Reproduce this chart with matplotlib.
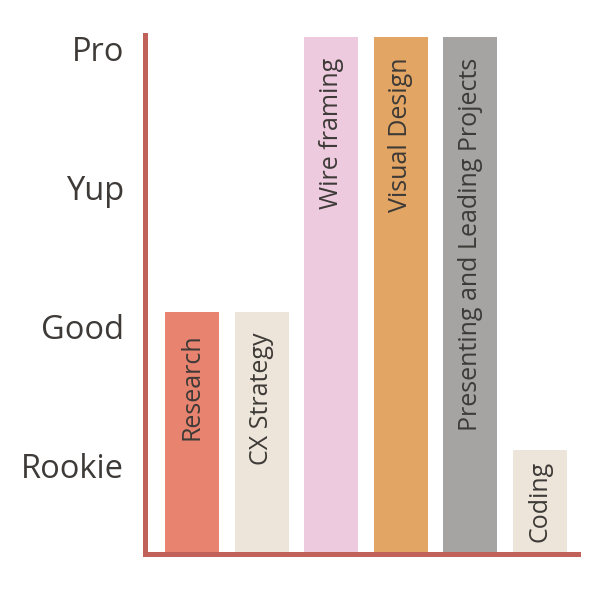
import matplotlib
matplotlib.use("Agg")
import matplotlib.pyplot as plt

# --- Data ---
skills = ["Research", "CX Strategy", "Wire framing", "Visual Design",
          "Presenting and Leading Projects", "Coding"]
levels = [2.1, 2.1, 4.08, 4.08, 4.08, 1.11]
bar_colors = ["#e8836f", "#ede5da", "#eecadf", "#e2a564", "#a5a4a2", "#ede5da"]
level_ticks = [1, 2, 3, 4]
level_names = ["Rookie", "Good", "Yup", "Pro"]

SPINE = "#c0625a"
TEXT = "#3d3a37"

plt.rcParams['font.family'] = ['Open Sans', 'DejaVu Sans']

fig = plt.figure(figsize=(6, 6), dpi=100)
ax = fig.add_axes([0.2417, 0.0767, 0.7216, 0.865])

x = list(range(len(skills)))
ax.bar(x, levels, width=0.776, color=bar_colors, zorder=1)

# labels sit inside the bars, rotated
for xi, name, val in zip(x, skills, levels):
    if val < 1.5:
        # short bar: centre the label
        ax.text(xi, (val + 0.36) / 2, name, rotation=90, ha="center", va="center",
                fontsize=18, color=TEXT)
    else:
        ax.text(xi, val - 0.15, name, rotation=90, ha="center", va="top",
                fontsize=18, color=TEXT)

ax.set_xlim(-0.675, 5.546)
ax.set_ylim(0.36, 4.094)
ax.set_xticks([])
ax.set_yticks(level_ticks)
ax.set_yticklabels(level_names, fontsize=23.5, color=TEXT)
ax.tick_params(axis="y", length=0, pad=15)

for side in ["top", "right"]:
    ax.spines[side].set_visible(False)
for side in ["left", "bottom"]:
    ax.spines[side].set_color(SPINE)
    ax.spines[side].set_linewidth(3.6)
    ax.spines[side].set_zorder(3)

fig.savefig("out.png", dpi=100)
